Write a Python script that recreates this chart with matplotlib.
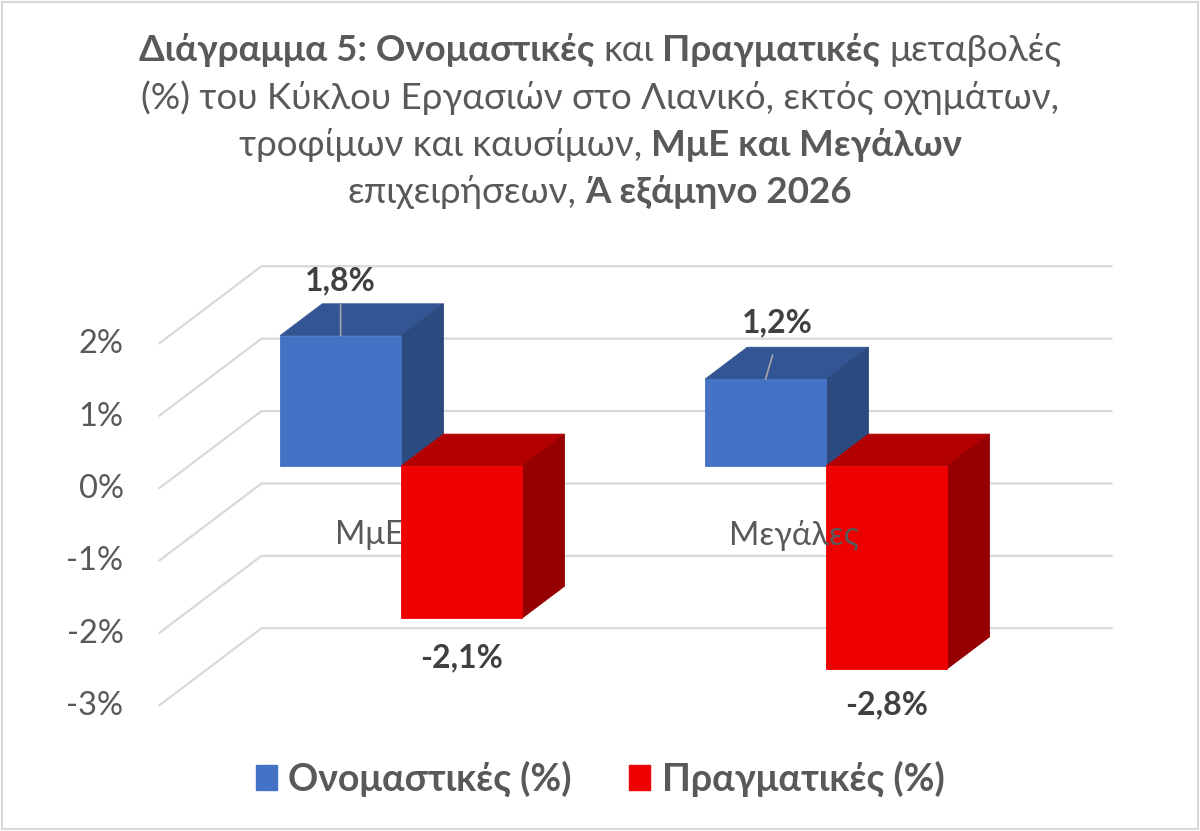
import matplotlib.pyplot as plt
from matplotlib.patches import Polygon, Patch, Rectangle
from matplotlib.offsetbox import TextArea, HPacker, VPacker, AnchoredOffsetbox

plt.rcParams['font.family'] = ['Lato', 'DejaVu Sans']

# data
categories = ['ΜμΕ', 'Μεγάλες']
series_names = ['Ονομαστικές (%)', 'Πραγματικές (%)']
nominal = [1.8, 1.2]
real = [-2.1, -2.8]
nominal_labels = ['1,8%', '1,2%']
real_labels = ['-2,1%', '-2,8%']
y_ticks = [2, 1, 0, -1, -2, -3]
y_tick_labels = ['2%', '1%', '0%', '-1%', '-2%', '-3%']

title_lines = [
    [('Διάγραμμα 5: Ονομαστικές', True), ('και', False), ('Πραγματικές', True), ('μεταβολές', False)],
    [('(%) του Κύκλου Εργασιών στο Λιανικό, εκτός οχημάτων,', False)],
    [('τροφίμων και καυσίμων,', False), ('ΜμΕ και Μεγάλων', True)],
    [('επιχειρήσεων,', False), ('Ά εξάμηνο 2026', True)],
]

# style
GRAY_TXT = '#595959'
DARK_TXT = '#404040'
GRID = '#D9D9D9'
BLUE = ('#335593', '#2B4A7F', '#4472C4')    # top, side, front
RED = ('#B30000', '#960000', '#EE0000')

# fake 3d: floor depth in x units / % units, bar width and depth slot
DX, DY = 0.24, 1.063
BAR_W = 0.285
D0, D1 = 0.286, 0.70


def proj(x, v, d):
    return (x + d * DX, v + d * DY)


def draw_box(ax, x0, x1, v, colors, z):
    lo, hi = min(0, v), max(0, v)
    front = [proj(x0, lo, D0), proj(x1, lo, D0), proj(x1, hi, D0), proj(x0, hi, D0)]
    top = [proj(x0, hi, D0), proj(x1, hi, D0), proj(x1, hi, D1), proj(x0, hi, D1)]
    side = [proj(x1, lo, D0), proj(x1, lo, D1), proj(x1, hi, D1), proj(x1, hi, D0)]
    for pts, c in zip([top, side, front], colors):
        ax.add_patch(Polygon(pts, closed=True, facecolor=c, edgecolor=c, lw=0.6, zorder=z))


fig = plt.figure(figsize=(12, 8.31), dpi=100)
ax = fig.add_axes([0, 0, 1, 1])
# frame: category 0 sits at 372px, 425px per category, 0% at 488px, 72.4px per 1%
ax.set_xlim(-372 / 425, (1200 - 372) / 425)
ax.set_ylim((488 - 831) / 72.4, 488 / 72.4)
ax.axis('off')

# gridlines: back wall + left side
for g, lab in zip(y_ticks, y_tick_labels):
    xa, ya = proj(-0.5, g, 0)
    xb, yb = proj(-0.5, g, 1)
    xc, yc = proj(1.5, g, 1)
    ax.plot([xa, xb, xc], [ya, yb, yc], color=GRID, lw=1.6, zorder=1)
    ax.annotate(lab, (xa, ya), xytext=(-36, -1), textcoords='offset pixels',
                ha='right', va='center', fontsize=23.5, color=GRAY_TXT)

# first category's label sits under its red bar, the second one over it
bar_z = [4, 2]
for i, cat in enumerate(categories):
    cx, cy = proj(i, -0.65, 0)
    ax.annotate(cat, (cx, cy), xytext=(-3, 0), textcoords='offset pixels',
                ha='center', va='center', fontsize=23.5, color=GRAY_TXT, zorder=3)

    draw_box(ax, i - BAR_W, i, nominal[i], BLUE, bar_z[i])
    draw_box(ax, i, i + BAR_W, real[i], RED, bar_z[i] + 0.5)

# data labels
nom_offsets = [(0, 55), (12, 56)]
nom_shrink = [5, 11]
for i, lab in enumerate(nominal_labels):
    px, pv = proj(i - BAR_W / 2, nominal[i], D0)
    ax.annotate(lab, (px, pv), xytext=nom_offsets[i], textcoords='offset pixels',
                ha='center', va='center', fontsize=23, fontweight='bold', color=DARK_TXT,
                arrowprops=dict(arrowstyle='-', color='#A6A6A6', lw=1.2,
                                relpos=(0.5, 0), shrinkA=nom_shrink[i], shrinkB=0),
                zorder=6)

real_offsets = [(0, -40), (0, -36)]
for i, lab in enumerate(real_labels):
    px, pv = proj(i + BAR_W / 2, real[i], D0)
    ax.annotate(lab, (px, pv), xytext=real_offsets[i], textcoords='offset pixels',
                ha='center', va='center', fontsize=23, fontweight='bold', color=DARK_TXT,
                zorder=6)

# title with mixed weights
rows = []
for line in title_lines:
    parts = [TextArea(t, textprops=dict(fontsize=26.5, color=GRAY_TXT,
                                        fontweight='bold' if b else 'normal'))
             for t, b in line]
    rows.append(HPacker(children=parts, align='baseline', pad=0, sep=6.5))
title_box = VPacker(children=rows, align='center', pad=0, sep=9.5)
anchored = AnchoredOffsetbox(loc='upper center', child=title_box, pad=0, borderpad=0,
                             frameon=False, bbox_to_anchor=(0.5, 1 - 33 / 831),
                             bbox_transform=fig.transFigure)
ax.add_artist(anchored)

# legend
handles = [Patch(facecolor=BLUE[2], edgecolor=BLUE[2]), Patch(facecolor=RED[2], edgecolor=RED[2])]
fig.legend(handles, series_names, loc='center', bbox_to_anchor=(0.5, 1 - 779 / 831),
           ncol=2, frameon=False, prop=dict(weight='bold', size=27), labelcolor=GRAY_TXT,
           handlelength=0.56, handleheight=0.64, handletextpad=0.3, columnspacing=1.55)

fig.add_artist(Rectangle((0.002, 0.002), 0.996, 0.995, transform=fig.transFigure,
                         fill=False, edgecolor=GRID, lw=1.5))

fig.savefig('out.png', dpi=100)
